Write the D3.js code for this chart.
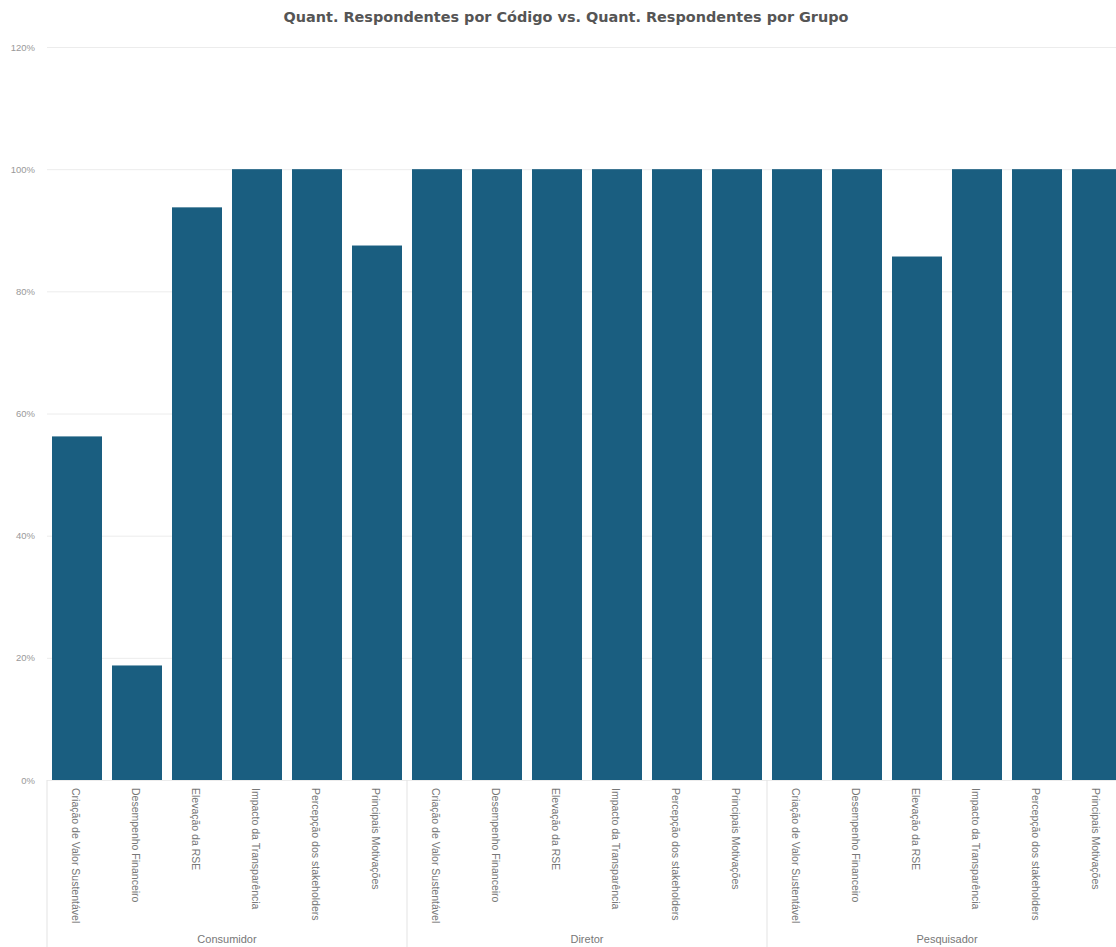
<!DOCTYPE html>
<html>
<head>
<meta charset="utf-8">
<script src="https://cdn.jsdelivr.net/npm/d3@7"></script>
<style>
  body { margin: 0; background: #fff; overflow: hidden; }
  svg { display: block; }
</style>
</head>
<body>
<div id="chart"></div>
<script>
const groups = ['Consumidor', 'Diretor', 'Pesquisador']
const codes = [
  'Criação de Valor Sustentável',
  'Desempenho Financeiro',
  'Elevação da RSE',
  'Impacto da Transparência',
  'Percepção dos stakeholders',
  'Principais Motivações'
]
const consumidorValues = [0.5625, 0.1875, 0.9375, 1, 1, 0.875]
const diretorValues = [1, 1, 1, 1, 1, 1]
const pesquisadorValues = [1, 1, 0.857, 1, 1, 1]
const yTicks = [0, 0.2, 0.4, 0.6, 0.8, 1, 1.2]

const W = 1116, H = 947
const margin = { top: 47, left: 47, bottom: 167 }
const yBottom = 780

const seriesByGroup = [consumidorValues, diretorValues, pesquisadorValues]
const rows = []
groups.forEach((g, gi) => {
  codes.forEach((c, ci) => rows.push({ key: g + '|' + c, group: g, code: c, value: seriesByGroup[gi][ci] }))
})

const svg = d3.select('#chart').append('svg')
  .attr('width', W)
  .attr('height', H)

const step = 60
const x = d3.scaleBand()
  .domain(rows.map(d => d.key))
  .range([margin.left, margin.left + step * rows.length])
  .paddingInner(10 / 60)
  .paddingOuter(5 / 60)

const y = d3.scaleLinear()
  .domain([0, 1.2])
  .range([yBottom, margin.top])

// title
svg.append('text')
  .attr('x', 566)
  .attr('y', 22)
  .attr('text-anchor', 'middle')
  .attr('font-family', 'DejaVu Sans Condensed, DejaVu Sans, sans-serif')
  .attr('font-weight', 'bold')
  .attr('font-size', 14)
  .attr('fill', '#555')
  .attr('textLength', 565)
  .attr('lengthAdjust', 'spacingAndGlyphs')
  .text('Quant. Respondentes por Código vs. Quant. Respondentes por Grupo')

// gridlines + y labels
const yAxis = svg.append('g')
  .attr('transform', `translate(${margin.left},0)`)
  .call(d3.axisLeft(y).tickValues(yTicks).tickFormat(d3.format('.0%')).tickSize(-(W - margin.left)).tickPadding(12))
yAxis.select('.domain').remove()
yAxis.selectAll('.tick line').attr('stroke', '#ececec')
yAxis.selectAll('.tick text')
  .attr('fill', '#999')
  .attr('font-size', 9.5)
  .attr('font-family', 'Liberation Sans, Arial, sans-serif')

// bars
svg.append('g')
  .selectAll('rect')
  .data(rows)
  .join('rect')
  .attr('x', d => x(d.key))
  .attr('width', x.bandwidth())
  .attr('y', d => y(d.value))
  .attr('height', d => y(0) - y(d.value))
  .attr('fill', '#1a5e80')

// group separators
const sep = svg.append('g').attr('stroke', '#e3e3e3')
groups.forEach((g, gi) => {
  const x0 = margin.left + gi * codes.length * step
  sep.append('line')
    .attr('x1', x0).attr('x2', x0)
    .attr('y1', yBottom).attr('y2', H)
})

// code labels (vertical)
svg.append('g')
  .selectAll('text')
  .data(rows)
  .join('text')
  .attr('transform', d => `translate(${x(d.key) + x.bandwidth() / 2 - 1},${yBottom + 8}) rotate(90)`)
  .attr('dominant-baseline', 'central')
  .attr('font-family', 'Liberation Sans, Arial, sans-serif')
  .attr('font-size', 10.5)
  .attr('fill', '#777')
  .text(d => d.code)

// group labels
svg.append('g')
  .selectAll('text')
  .data(groups)
  .join('text')
  .attr('x', (g, gi) => margin.left + (gi + 0.5) * codes.length * step)
  .attr('y', 943)
  .attr('text-anchor', 'middle')
  .attr('font-family', 'Liberation Sans, Arial, sans-serif')
  .attr('font-size', 11)
  .attr('fill', '#777')
  .text(d => d)
</script>
</body>
</html>
